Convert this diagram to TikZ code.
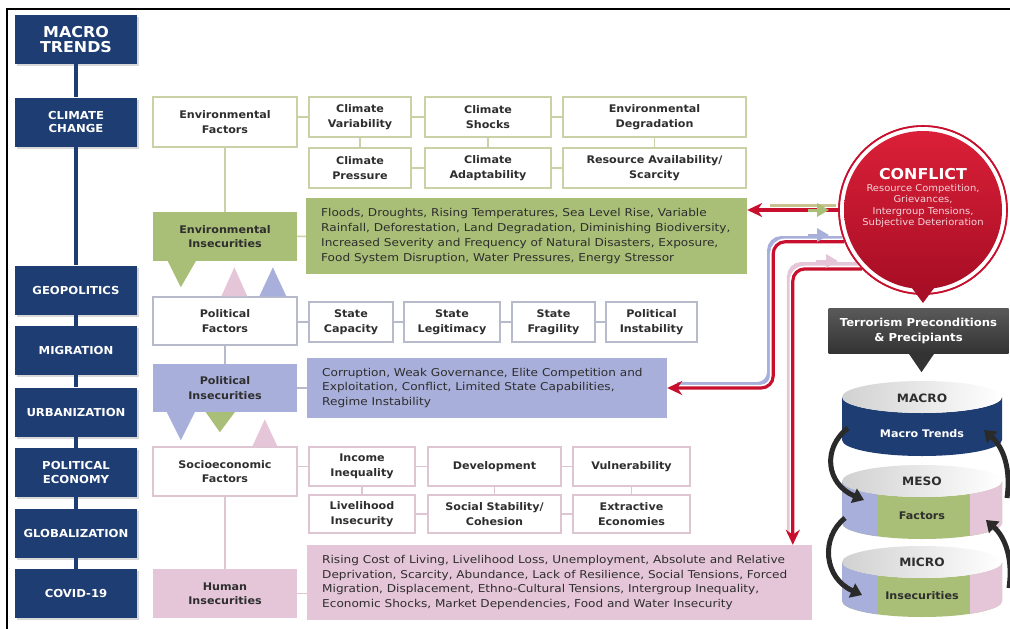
\documentclass[tikz,border=0pt]{standalone}
\usepackage{fontspec}
\setmainfont{DejaVu Sans}[FakeStretch=1.06]
\newfontfamily\bodyf{DejaVu Sans}[FakeStretch=1.12]
\usetikzlibrary{arrows.meta,calc,shadows}
\definecolor{navy}{HTML}{1E3D72}
\definecolor{envgreen}{HTML}{A9BE76}
\definecolor{envline}{HTML}{C8D2A6}
\definecolor{polblue}{HTML}{A8AFDA}
\definecolor{polline}{HTML}{B7BACB}
\definecolor{humpink}{HTML}{E5C6D8}
\definecolor{humline}{HTML}{DEC5D2}
\definecolor{txt}{HTML}{2E2E2E}
\definecolor{cred}{HTML}{C8102E}
\definecolor{redtop}{HTML}{DA2038}
\definecolor{redbot}{HTML}{A80E25}
\definecolor{tgray}{HTML}{333333}
\definecolor{tgraylight}{HTML}{5A5A5A}
\definecolor{arrowgray}{HTML}{2A2A2A}
\definecolor{tan}{HTML}{C9C28E}
\definecolor{subpink}{HTML}{F6D3D9}
\begin{document}
\begin{tikzpicture}[x=1pt,y=-1pt,
 lbl/.style={text=txt, font=\bfseries\fontsize{10.5}{14.5}\selectfont, align=center, inner sep=0pt},
 lbox/.style={fill=navy, text=white, minimum width=122pt, minimum height=49pt, inner sep=0pt, align=center, font=\bfseries\fontsize{11}{13.5}\selectfont, drop shadow={opacity=0.3, shadow xshift=2pt, shadow yshift=-2pt}},
 fbox/.style={lbl, draw=#1, line width=1.3pt, fill=white},
 ibox/.style={lbl, fill=#1},
 tbox/.style={fill=#1, inner sep=0pt},
 body/.style={text=txt, font=\bodyf\fontsize{10.8}{14.7}\selectfont, align=left, inner sep=0pt, anchor=west},
 link/.style={draw=#1, line width=1.3pt},
 redln/.style={cred, line width=3.2pt, rounded corners=12pt},
 halo/.style={white, line width=6.5pt, rounded corners=12pt},
 redtip/.style={-{Stealth[length=15pt,width=14pt]}},
 curv/.style={arrowgray, line width=5pt, -{Triangle[length=11pt,width=15pt]}},
 cyltext/.style={font=\bfseries\fontsize{11.5}{13}\selectfont, text=txt, inner sep=0pt},
 cylsub/.style={font=\bfseries\fontsize{10.5}{12}\selectfont, inner sep=0pt},
]
\useasboundingbox (0,0) rectangle (1010,629);
\fill[white] (0,0) rectangle (1010,629);
\draw[black, line width=2pt] (7,629) -- (7,9) -- (1010,9);

% ---------------- left column
\node[lbox, font=\bfseries\fontsize{15}{15.5}\selectfont] (macro) at (76,39.5) {MACRO\\TRENDS};
\node[lbox] (clim) at (76,122) {CLIMATE\\CHANGE};
\node[lbox] (geo) at (76,290) {GEOPOLITICS};
\node[lbox] (mig) at (76,350.5) {MIGRATION};
\node[lbox] (urb) at (76,412) {URBANIZATION};
\node[lbox] (pe) at (76,472.5) {POLITICAL\\ECONOMY};
\node[lbox] (glob) at (76,533.5) {GLOBALIZATION};
\node[lbox] (cov) at (76,593.5) {COVID-19};
\foreach \a/\b in {macro/clim,clim/geo,geo/mig,mig/urb,urb/pe,pe/glob,glob/cov}
  \draw[navy, line width=4pt] (\a) -- (\b);

% ---------------- middle column
\node[fbox=envline, minimum width=144pt, minimum height=50pt] (envf) at (225,122) {Environmental\\Factors};
\node[ibox=envgreen, minimum width=144pt, minimum height=49pt] (envi) at (225,236.5) {Environmental\\Insecurities};
\node[fbox=polline, minimum width=144pt, minimum height=48pt] (polf) at (225,321) {Political\\Factors};
\node[ibox=polblue, minimum width=144pt, minimum height=48pt] (poli) at (225,388) {Political\\Insecurities};
\node[fbox=humline, minimum width=144pt, minimum height=49pt] (socf) at (225,471.5) {Socioeconomic\\Factors};
\node[ibox=humpink, minimum width=144pt, minimum height=49pt] (humi) at (225,593.5) {Human\\Insecurities};
\draw[link=envline] (envf) -- (envi);
\draw[link=polline] (polf) -- (poli);
\draw[link=humline] (socf) -- (humi);

% callout triangles
\fill[envgreen] ($(envi.south west)+(15,0)$) -- ($(envi.south west)+(43,0)$) -- ($(envi.south west)+(28,26)$) -- cycle;
\fill[humpink] ($(polf.north west)+(69,0)$) -- ($(polf.north west)+(95,0)$) -- ($(polf.north west)+(82,-29)$) -- cycle;
\fill[polblue] ($(polf.north west)+(107,0)$) -- ($(polf.north west)+(134,0)$) -- ($(polf.north west)+(120.5,-29)$) -- cycle;
\fill[polblue] ($(poli.south west)+(14,0)$) -- ($(poli.south west)+(42,0)$) -- ($(poli.south west)+(28,28)$) -- cycle;
\fill[envgreen] ($(poli.south west)+(53,0)$) -- ($(poli.south west)+(82,0)$) -- ($(poli.south west)+(67,20)$) -- cycle;
\fill[humpink] ($(socf.north west)+(100,0)$) -- ($(socf.north west)+(125,0)$) -- ($(socf.north west)+(112.5,-27)$) -- cycle;

% ---------------- environmental factor boxes
\node[fbox=envline, minimum width=102pt, minimum height=40pt] (cv) at (360,117) {Climate\\Variability};
\node[fbox=envline, minimum width=126pt, minimum height=40pt] (cs) at (488,117) {Climate\\Shocks};
\node[fbox=envline, minimum width=183pt, minimum height=40pt] (ed) at (654.5,117) {Environmental\\Degradation};
\node[fbox=envline, minimum width=102pt, minimum height=40pt] (cp) at (360,168) {Climate\\Pressure};
\node[fbox=envline, minimum width=126pt, minimum height=40pt] (ca) at (488,168) {Climate\\Adaptability};
\node[fbox=envline, minimum width=183pt, minimum height=40pt] (ra) at (654.5,168) {Resource Availability/\\Scarcity};
\draw[link=envline] (envf.east |- cv.west) -- (cv.west);
\draw[link=envline] (cv) -- (cs); \draw[link=envline] (cs) -- (ed);
\draw[link=envline] (cp) -- (ca); \draw[link=envline] (ca) -- (ra);
\draw[link=envline] (cv) -- (cp); \draw[link=envline] (cs) -- (ca); \draw[link=envline] (ed) -- (ra);

\node[tbox=envgreen, minimum width=441pt, minimum height=76pt] (envt) at (526.5,236) {};
\node[body] (envtx) at (321,236) {Floods, Droughts, Rising Temperatures, Sea Level Rise, Variable\\Rainfall, Deforestation, Land Degradation, Diminishing Biodiversity,\\Increased Severity and Frequency of Natural Disasters, Exposure,\\Food System Disruption, Water Pressures, Energy Stressor};
\draw[link=envline] (envi) -- (envt);

% ---------------- political factor boxes
\node[fbox=polline, minimum width=84pt, minimum height=40pt] (sc) at (351,322) {State\\Capacity};
\node[fbox=polline, minimum width=96pt, minimum height=40pt] (sl) at (452,322) {State\\Legitimacy};
\node[fbox=polline, minimum width=83pt, minimum height=40pt] (sf) at (553.5,322) {State\\Fragility};
\node[fbox=polline, minimum width=91pt, minimum height=40pt] (pin) at (651.5,322) {Political\\Instability};
\draw[link=polline] (polf.east |- sc.west) -- (sc.west);
\draw[link=polline] (sc) -- (sl); \draw[link=polline] (sl) -- (sf); \draw[link=polline] (sf) -- (pin);

\node[tbox=polblue, minimum width=360pt, minimum height=60pt] (polt) at (487,388) {};
\node[body] (poltx) at (322,388) {Corruption, Weak Governance, Elite Competition and\\Exploitation, Conflict, Limited State Capabilities,\\Regime Instability};
\draw[link=polline] (poli) -- (polt);

% ---------------- socioeconomic factor boxes
\node[fbox=humline, minimum width=106pt, minimum height=39pt] (ii) at (362,466.5) {Income\\Inequality};
\node[fbox=humline, minimum width=133pt, minimum height=39pt] (dev) at (494.5,466.5) {Development};
\node[fbox=humline, minimum width=117pt, minimum height=39pt] (vul) at (631.5,466.5) {Vulnerability};
\node[fbox=humline, minimum width=106pt, minimum height=38pt] (li) at (362,514) {Livelihood\\Insecurity};
\node[fbox=humline, minimum width=133pt, minimum height=38pt] (ss) at (494.5,514) {Social Stability/\\Cohesion};
\node[fbox=humline, minimum width=117pt, minimum height=38pt] (ee) at (631.5,514) {Extractive\\Economies};
\draw[link=humline] (socf.east |- ii.west) -- (ii.west);
\draw[link=humline] (ii) -- (dev); \draw[link=humline] (dev) -- (vul);
\draw[link=humline] (li) -- (ss); \draw[link=humline] (ss) -- (ee);
\draw[link=humline] (ii) -- (li); \draw[link=humline] (dev) -- (ss); \draw[link=humline] (vul) -- (ee);

\node[tbox=humpink, minimum width=505pt, minimum height=75pt] (humt) at (559.5,582.5) {};
\node[body] (humtx) at (322,582.5) {Rising Cost of Living, Livelihood Loss, Unemployment, Absolute and Relative\\Deprivation, Scarcity, Abundance, Lack of Resilience, Social Tensions, Forced\\Migration, Displacement, Ethno-Cultural Tensions, Intergroup Inequality,\\Economic Shocks, Market Dependencies, Food and Water Insecurity};
\draw[link=humline] (humi.east) -- (humi.east -| humt.west);

% ---------------- conflict circle
\node[circle, draw=cred, line width=1.6pt, fill=white, minimum size=168pt, inner sep=0pt] (conf) at (923,210) {};

% connectors (shadows, halos, red lines)
\draw[tan, line width=5pt] (770,206) -- (836,206);
\draw[polblue, line width=5pt, rounded corners=12pt] ($(polt.east)+(10,-3.5)$) -| (769.5,238.5) -- (842,238.5);
\draw[humpink, line width=5pt, rounded corners=12pt] ($(humt.north west)+(482.5,-12)$) -- (789.5,264.5) -- (858,264.5);
\draw[halo] (conf.180) -- (envt.east |- conf.180);
\draw[halo] (conf.202) -| ($(polt.east)+(106,0)$) -- ($(polt.east)+(12,0)$);
\draw[halo] (conf.224) -| ($(humt.north west)+(486,-12)$);
\draw[redln, redtip] (conf.180) -- (envt.east |- conf.180);
\draw[redln, redtip] (conf.202) -| ($(polt.east)+(106,0)$) -- (polt.east);
\draw[redln, redtip] (conf.224) -| ($(humt.north west)+(486,0)$);
% inward coloured heads
\draw[envgreen, line width=3pt, -{Triangle[length=12pt,width=13pt]}] (808,210) -- (829,210);
\draw[polblue, line width=3pt, -{Triangle[length=12pt,width=13pt]}] (808,235) -- (829,235);
\draw[humpink, line width=3pt, -{Triangle[length=12pt,width=13pt]}] (816,261) -- (838,261);

% redraw circle interior on top
\node[circle, draw=cred, line width=1.6pt, minimum size=168pt, inner sep=0pt] (confring) at (conf.center) {};
\shade[top color=redtop, bottom color=redbot] (conf.center) circle[radius=79];
\fill[redbot] (909,284) -- (937,284) -- (923,303) -- cycle;
\node[text=white, font=\bfseries\fontsize{15}{17}\selectfont, inner sep=0pt] (conft) at (923,174) {CONFLICT};
\node[text=subpink, font=\fontsize{9.4}{11.6}\selectfont, align=center, inner sep=0pt] (confs) at (923,206) {Resource Competition,\\Grievances,\\Intergroup Tensions,\\Subjective Deterioration};

% ---------------- terrorism box
\node[top color=tgraylight, bottom color=tgray, text=white, minimum width=180pt, minimum height=45pt, inner sep=0pt, align=center, font=\bfseries\fontsize{11}{15}\selectfont] (terr) at (918.5,330.5) {Terrorism Preconditions\\\& Precipiants};
\fill[tgray] ($(terr.south)+(-10,0)$) -- ($(terr.south)+(16,0)$) -- ($(terr.south)+(3,19)$) -- cycle;

% ---------------- cylinders
% MACRO
\fill[navy] (842,397) -- (842,440) arc[start angle=180,end angle=0,x radius=80,y radius=16] -- (1002,397) arc[start angle=0,end angle=180,x radius=80,y radius=16] -- cycle;
\shade[left color=black!18, right color=white] (922,397) ellipse[x radius=80,y radius=16];
% MESO
\begin{scope}
\clip (842,481) -- (842,523) arc[start angle=180,end angle=0,x radius=80,y radius=16] -- (1002,481) arc[start angle=0,end angle=180,x radius=80,y radius=16] -- cycle;
\fill[envgreen] (840,460) rectangle (1004,545);
\fill[polblue] (840,460) rectangle (877,545);
\fill[humpink] (970,460) rectangle (1004,545);
\end{scope}
\shade[left color=black!18, right color=white] (922,481) ellipse[x radius=80,y radius=16];
% MICRO
\begin{scope}
\clip (842,562) -- (842,601) arc[start angle=180,end angle=0,x radius=80,y radius=16] -- (1002,562) arc[start angle=0,end angle=180,x radius=80,y radius=16] -- cycle;
\fill[envgreen] (840,540) rectangle (1004,625);
\fill[polblue] (840,540) rectangle (877,625);
\fill[humpink] (970,540) rectangle (1004,625);
\end{scope}
\shade[left color=black!18, right color=white] (922,562) ellipse[x radius=80,y radius=16];

\node[cyltext] (macl) at (922,398) {MACRO};
\node[cylsub, text=white] (mact) at (922,434) {Macro Trends};
\node[cyltext] (mesl) at (922,481) {MESO};
\node[cylsub, text=txt] (mest) at (922,516) {Factors};
\node[cyltext] (micl) at (922,562) {MICRO};
\node[cylsub, text=txt] (mict) at (922,596) {Insecurities};

% curved arrows
\draw[curv] (848,428) .. controls (822,448) and (826,484) .. (864,500);
\draw[curv] (845,518) .. controls (820,538) and (824,578) .. (862,595);
\draw[curv] (1007,498) .. controls (1011,470) and (1004,448) .. (984,430);
\draw[curv] (1009,588) .. controls (1013,560) and (1006,538) .. (986,520);
\end{tikzpicture}
\end{document}
